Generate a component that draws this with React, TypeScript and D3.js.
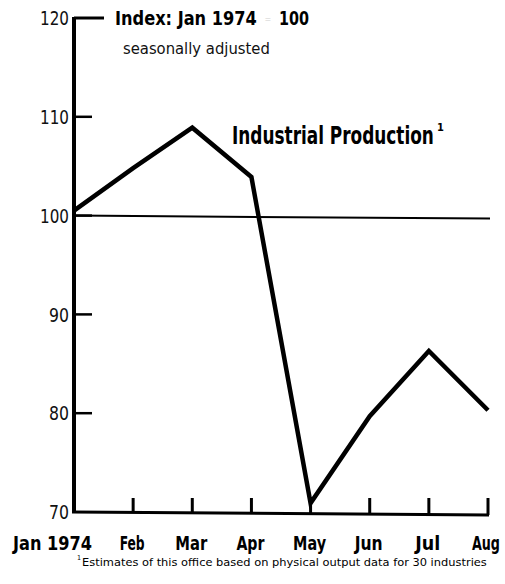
import React, { useLayoutEffect, useRef, useState } from "react";
import * as d3 from "d3";

const months = ["Jan 1974", "Feb", "Mar", "Apr", "May", "Jun", "Jul", "Aug"];
const production = [100.5, 104.8, 108.9, 103.9, 70.9, 79.7, 86.3, 80.3];
const yTicks = [70, 80, 90, 100, 110, 120];
const monthLabelWidths = [79, 25, 32, 28, 33, 28, 25, 28];

const W = 505;
const H = 584;
const FONT = "'DejaVu Sans Condensed', 'Liberation Sans Narrow', 'Roboto', sans-serif";

type FitProps = {
  x: number;
  y: number;
  width: number;
  anchor?: "start" | "middle" | "end";
  dy?: string;
  fontSize: number;
  fontWeight?: string;
  fill?: string;
  children: React.ReactNode;
};

function FitText({ x, y, width, anchor = "start", dy, fontSize, fontWeight, fill = "#000", children }: FitProps) {
  const ref = useRef<SVGTextElement>(null);
  const [s, setS] = useState(1);
  useLayoutEffect(() => {
    if (ref.current) {
      const n = ref.current.getComputedTextLength();
      if (n > 0) setS(width / n);
    }
  }, [width, children, fontSize]);
  const off = anchor === "start" ? 0 : anchor === "middle" ? -width / 2 : -width;
  return (
    <g transform={`translate(${x + off},${y}) scale(${s},1)`}>
      <text ref={ref} x={0} y={0} dy={dy} fontSize={fontSize} fontWeight={fontWeight} fill={fill}>
        {children}
      </text>
    </g>
  );
}

export default function App() {
  const x = d3.scalePoint<string>().domain(months).range([74, 488]);
  const y = d3.scaleLinear().domain([70, 120]).range([512, 18]);
  const line = d3
    .line<number>()
    .x((_, i) => x(months[i]) as number)
    .y((d) => y(d));

  const x0 = x(months[0]) as number;
  const xEnd = x(months[months.length - 1]) as number;
  const last = months.length - 1;

  const labelX = (m: string, i: number) =>
    i === 0 ? 52.5 : i === last ? 500 : (x(m) as number) - 1;

  return (
    <svg
      width={W}
      height={H}
      style={{ position: "absolute", left: 0, top: 0, background: "#fff" }}
      fontFamily={FONT}
    >
      {/* axes */}
      <line x1={x0} y1={y(120) - 1} x2={x0} y2={y(70) + 1} stroke="#000" strokeWidth={4} />
      <line x1={x0 - 2} y1={y(70)} x2={xEnd + 1} y2={y(70) + 3} stroke="#000" strokeWidth={3} />
      {/* y ticks */}
      {yTicks.map((t) => (
        <g key={t}>
          {t !== 70 && (
            <line
              x1={x0}
              x2={t === 120 ? x0 + 30 : x0 + 18}
              y1={y(t)}
              y2={y(t)}
              stroke="#000"
              strokeWidth={t === 120 ? 3 : 2.5}
            />
          )}
          <FitText
            x={x0 - 5}
            y={y(t)}
            dy="0.36em"
            anchor="end"
            fontSize={20}
            fill="#111"
            width={t >= 100 ? 29 : 20}
          >
            {t}
          </FitText>
        </g>
      ))}
      {/* x ticks */}
      {months.slice(1).map((m, i) => (
        <line
          key={m}
          x1={x(m) as number}
          x2={x(m) as number}
          y1={y(70) + ((i + 1) / 7) * 3}
          y2={y(70) - 14}
          stroke="#000"
          strokeWidth={3}
        />
      ))}
      {/* x labels */}
      {months.map((m, i) => (
        <FitText
          key={m}
          x={labelX(m, i)}
          y={550}
          anchor={i === last ? "end" : "middle"}
          fontSize={20}
          fontWeight="bold"
          width={monthLabelWidths[i]}
        >
          {m}
        </FitText>
      ))}
      {/* reference line at 100 */}
      <line x1={x0} x2={xEnd + 2} y1={y(100)} y2={y(100) + 3} stroke="#000" strokeWidth={2} />
      {/* data line */}
      <path
        d={line(production) || ""}
        fill="none"
        stroke="#000"
        strokeWidth={4.5}
        strokeLinejoin="miter"
      />
      {/* titles */}
      <FitText x={115} y={25} fontSize={20} fontWeight="bold" width={142}>
        Index: Jan 1974
      </FitText>
      <text x={268} y={22} textAnchor="middle" fontSize={9} fill="#cfcfcf">
        =
      </text>
      <FitText x={279} y={25} fontSize={20} fontWeight="bold" width={30}>
        100
      </FitText>
      <FitText x={123} y={54} fontSize={16} fill="#111" width={147}>
        seasonally adjusted
      </FitText>
      <FitText x={232} y={144} fontSize={25} fontWeight="bold" width={202}>
        Industrial Production
      </FitText>
      <text x={437} y={131} fontSize={11} fontWeight="bold" fill="#000">
        1
      </text>
      {/* footnote */}
      <text x={77} y={560} fontSize={7} fill="#000">
        1
      </text>
      <FitText x={82} y={566} fontSize={11} width={405}>
        Estimates of this office based on physical output data for 30 industries
      </FitText>
    </svg>
  );
}
